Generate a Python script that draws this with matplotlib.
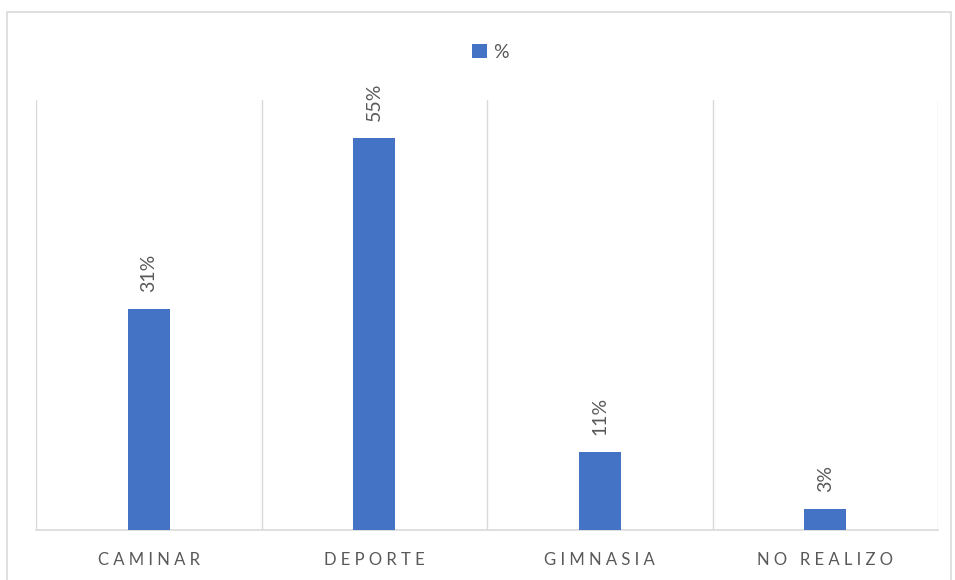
import matplotlib.pyplot as plt
from matplotlib.patches import Rectangle

# datos de la gráfica
categorias = ['CAMINAR', 'DEPORTE', 'GIMNASIA', 'NO REALIZO']
porcentajes = [31, 55, 11, 3]
serie = '%'

AZUL = '#4472C4'
GRIS_TEXTO = '#595959'
GRIS_LINEA = '#D9D9D9'

plt.rcParams['font.family'] = ['Lato', 'DejaVu Sans']

fig = plt.figure(figsize=(9.55, 5.8), dpi=100, facecolor='white')
ax = fig.add_axes([36 / 955, 50 / 580, 902 / 955, 430 / 580])

x = range(len(categorias))
barras = ax.bar(x, porcentajes, width=0.186, color=AZUL, label=serie, zorder=3)

# etiquetas de valor giradas sobre cada barra
for b, v in zip(barras, porcentajes):
    ax.annotate(f'{v}%', (b.get_x() + b.get_width() / 2, b.get_height()),
                xytext=(0, 12), textcoords='offset points',
                rotation=90, ha='center', va='bottom',
                fontsize=14, color=GRIS_TEXTO)

ax.set_xlim(-0.5, len(categorias) - 0.5)
ax.set_ylim(0, 60.3)

# líneas verticales entre categorías
for i in range(len(categorias) + 1):
    ax.axvline(i - 0.5, color=GRIS_LINEA, lw=1, zorder=1)

for s in ['top', 'left', 'right']:
    ax.spines[s].set_visible(False)
ax.spines['bottom'].set_color(GRIS_LINEA)
ax.spines['bottom'].set_linewidth(1.2)

ax.set_yticks([])
ax.set_xticks(list(x))
ax.set_xticklabels([' '.join(c) for c in categorias], fontsize=12, color=GRIS_TEXTO)
ax.tick_params(axis='x', length=0, pad=16)

leg = ax.legend(loc='lower center', bbox_to_anchor=(0.504, 1.068), frameon=False,
                fontsize=14, handlelength=0.75, handleheight=0.75, handletextpad=0.35,
                borderpad=0)
for t in leg.get_texts():
    t.set_color(GRIS_TEXTO)

# marco exterior del gráfico
fig.patches.append(Rectangle((7 / 955, -0.05), 944 / 955, 1.05 - 12 / 580,
                             transform=fig.transFigure, fill=False,
                             edgecolor=GRIS_LINEA, lw=1.2))

fig.savefig('out.png', dpi=100, facecolor='white')
